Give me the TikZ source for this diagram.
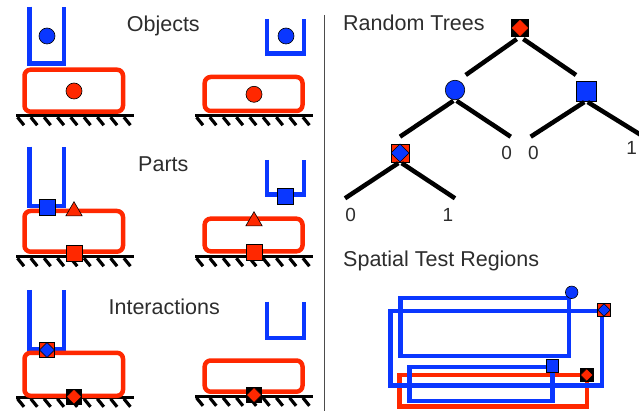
\documentclass[tikz,border=0pt]{standalone}
\usepackage{fontspec}
\setmainfont{Liberation Sans}
\usetikzlibrary{shapes.geometric}
\definecolor{kblue}{RGB}{10,55,255}
\definecolor{kred}{RGB}{255,40,0}
\definecolor{ink}{RGB}{45,45,45}
\tikzset{
  wall/.style={draw=kblue, line width=4.5pt},
  tray/.style={draw=kred, line width=4.5pt, rounded corners=6pt},
  region/.style={line width=4.2pt},
  ground/.style={draw=black, line width=3pt},
  hatch/.style={draw=black, line width=3.2pt},
  branch/.style={draw=black, line width=4.5pt},
  sym/.style={draw=black, line width=0.6pt, inner sep=0pt, outer sep=0pt},
  bdot/.style={sym, circle, fill=kblue, minimum size=#1}, bdot/.default=16pt,
  rdot/.style={sym, circle, fill=kred, minimum size=#1}, rdot/.default=16pt,
  bsq/.style={sym, rectangle, fill=kblue, minimum size=#1}, bsq/.default=16pt,
  rsq/.style={sym, rectangle, fill=kred, minimum size=#1}, rsq/.default=16pt,
  rtri/.style={sym, regular polygon, regular polygon sides=3, fill=kred, minimum size=19pt},
  % square with a diamond inside: #1 square, #2 diamond
  pair/.style n args={3}{sym, rectangle, fill=#1, minimum size=#3,
    path picture={\draw[fill=#2, line width=0.6pt] (path picture bounding box.north)
      -- (path picture bounding box.east) -- (path picture bounding box.south)
      -- (path picture bounding box.west) -- cycle;}},
  title/.style={text=ink, font=\fontsize{21.5}{24}\selectfont, anchor=base, inner sep=0pt},
  leaf/.style={text=ink, font=\fontsize{19}{22}\selectfont, anchor=base, inner sep=0pt}
}
\begin{document}
\begin{tikzpicture}[x=1pt,y=-1pt]
\useasboundingbox (0,0) rectangle (639,411);

% grounds
\foreach \gx/\gy in {16/115.7, 195/115.7, 16/256.7, 195/256.7, 16/397.3, 195/396.3}{
  \draw[ground] (\gx,\gy) -- ++(118,0);
  \foreach \k in {0,...,8}
    \draw[hatch] (\gx+1.5+13.3*\k,\gy+1.5) -- ++(6.5,8);
}

%Objects
\node[title] (T1) at (163.3,31.7) {Objects};
\draw[wall] (29.5,6.7) -- (29.5,63.7) -- (64.2,63.7) -- (64.2,6.7);
\draw[tray] (24.5,69.7) rectangle (123,111.7);
\node[bdot] (O1) at (47,36) {};
\node[rdot] (O2) at (74,91) {};
\draw[wall] (267,19) -- (267,53.7) -- (303.8,53.7) -- (303.8,19);
\draw[tray] (204.7,77) rectangle (302.5,111);
\node[bdot] (O3) at (286,36) {};
\node[rdot] (O4) at (254,94.3) {};

%Parts
\node[title] (T2) at (163.3,171.7) {Parts};
\draw[wall] (29.5,146.7) -- (29.5,205.8) -- (64.2,205.8) -- (64.2,146.7);
\draw[tray] (24.5,211) rectangle (123,251.7);
\node[bsq] (P1) at (47,207.3) {};
\node[rtri] (P2) at (74,211.2) {};
\node[rsq] (P3) at (74,253.3) {};
\draw[wall] (267,160) -- (267,194.5) -- (303.8,194.5) -- (303.8,160);
\draw[tray] (204.7,218.7) rectangle (302.5,251.3);
\node[bsq] (P4) at (285,196.7) {};
\node[rtri] (P5) at (254,221.2) {};
\node[rsq] (P6) at (254,252.7) {};

%Interactions
\node[title] (T3) at (164.2,314) {Interactions};
\draw[wall] (29.5,290) -- (29.5,348.8) -- (64.2,348.8) -- (64.2,290);
\draw[tray] (24.5,352.8) rectangle (123,395.8);
\node[pair={kred}{kblue}{15pt}] (I1) at (47,350) {};
\node[pair={black}{kred}{15pt}] (I2) at (74,396.7) {};
\draw[wall] (267,301.7) -- (267,337.8) -- (303.8,337.8) -- (303.8,301.7);
\draw[tray] (204.7,360.5) rectangle (302.5,391.7);
\node[pair={black}{kred}{15pt}] (I3) at (254,395) {};

% divider
\draw[black!70, line width=1pt] (324.5,15) -- (324.5,411);

%Random Trees
\node[title, anchor=base west] (T4) at (343,30.7) {Random Trees};
\node[pair={black}{kred}{17.5pt}] (R) at (520,28) {};
\node[bdot=19.5pt] (A) at (455,90) {};
\node[bsq=20pt] (B) at (586,91) {};
\node[pair={kred}{kblue}{18pt}] (C) at (400,153) {};
\coordinate (RA) at (465.7,75);
\coordinate (RB) at (576,75);
\coordinate (AC) at (400,136.7);
\coordinate (A0) at (510.7,136.7);
\coordinate (B0) at (530.7,136.7);
\coordinate (B1) at (645,137.5);
\coordinate (C0) at (345,198.3);
\coordinate (C1) at (455,198.3);
\draw[branch, shorten <=4pt] (R.south) -- (RA);
\draw[branch, shorten <=4pt] (R.south) -- (RB);
\draw[branch, shorten <=2pt] (A.south) -- (AC);
\draw[branch, shorten <=2pt] (A.south) -- (A0);
\draw[branch, shorten <=2pt] (B.south) -- (B0);
\draw[branch, shorten <=2pt] (B.south) -- (B1);
\draw[branch, shorten <=2pt] (C.south) -- (C0);
\draw[branch, shorten <=2pt] (C.south) -- (C1);
\node[leaf] (LA) at (506.7,160) {0};
\node[leaf] (LB) at (533.3,160) {0};
\node[leaf] (LC) at (631.7,155) {1};
\node[leaf] (LD) at (350.7,221.7) {0};
\node[leaf] (LE) at (448,221.7) {1};

%Spatial Test Regions
\node[title, anchor=base west] (T5) at (343,266.7) {Spatial Test Regions};
\draw[region, draw=kred] (399.5,375) rectangle (587.2,406.5);
\draw[region, draw=kblue] (400.5,297.8) rectangle (568.8,356.2);
\draw[region, draw=kblue] (390.5,311.2) rectangle (601.7,385.5);
\draw[region, draw=kblue] (409.5,367) rectangle (552.5,400.8);
\node[bdot=12.5pt] (S1) at (571.7,292.3) {};
\node[pair={kred}{kblue}{12.5pt}] (S2) at (604,310) {};
\node[bsq=12.5pt] (S3) at (552.3,366) {};
\node[pair={black}{kred}{12.5pt}] (S4) at (586.7,375) {};
\end{tikzpicture}
\end{document}
